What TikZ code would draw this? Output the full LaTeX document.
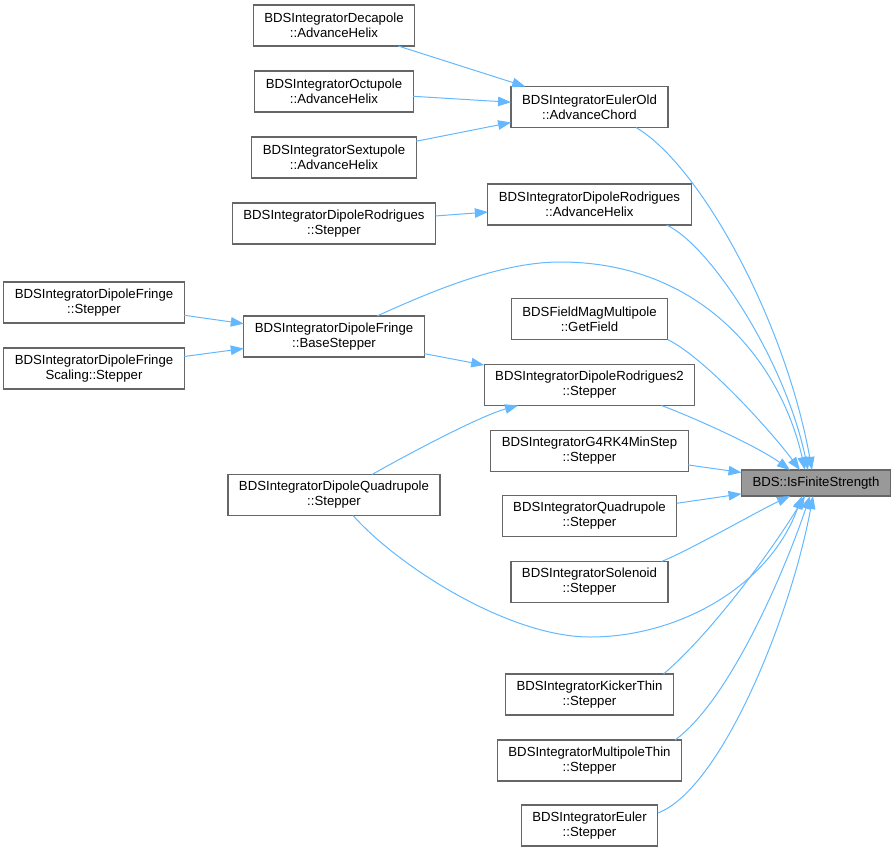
\documentclass[tikz,border=0pt]{standalone}
\usepackage{fontspec}
\setmainfont{Liberation Sans}
\usetikzlibrary{positioning}
\usetikzlibrary{arrows.meta}

\definecolor{edgeblue}{HTML}{63B8FF}
\definecolor{boxgrey}{HTML}{666666}
\definecolor{mainfill}{HTML}{999999}

\begin{document}
\begin{tikzpicture}[x=1pt,y=-1pt]
	\tikzset{
		fnnode/.style={rectangle, draw=boxgrey, line width=1.2pt, fill=white, align=center, minimum height=41pt, inner xsep=11pt, inner ysep=2pt, outer sep=0pt, font=\fontsize{13.2}{15}\selectfont},
		mainnode/.style={fnnode, fill=mainfill, minimum height=26pt},
		calledge/.style={->, draw=edgeblue, line width=1pt},
		>={Triangle[length=13pt, width=9.5pt]},
	}
	\useasboundingbox (0,0) rectangle (896,851);

	\node[fnnode] (deca) at (334,25.5) {BDSIntegratorDecapole\\::AdvanceHelix};
	\node[fnnode, below=25pt of deca] (octu) {BDSIntegratorOctupole\\::AdvanceHelix};
	\node[fnnode, below=25pt of octu] (sext) {BDSIntegratorSextupole\\::AdvanceHelix};
	\node[fnnode, below=25pt of sext] (rodstep) {BDSIntegratorDipoleRodrigues\\::Stepper};
	\node[fnnode] (fringe) at (94,302.5) {BDSIntegratorDipoleFringe\\::Stepper};
	\node[fnnode, below=25pt of fringe] (fringescal) {BDSIntegratorDipoleFringe\\Scaling::Stepper};
	\node[fnnode] (basestep) at (334,336.5) {BDSIntegratorDipoleFringe\\::BaseStepper};
	\node[fnnode] (dipquad) at (334,495) {BDSIntegratorDipoleQuadrupole\\::Stepper};

	\node[fnnode] (eulerold) at (589.5,107) {BDSIntegratorEulerOld\\::AdvanceChord};
	\node[fnnode] (rodhelix) at (589.5,204.5) {BDSIntegratorDipoleRodrigues\\::AdvanceHelix};
	\node[fnnode] (getfield) at (589.5,319) {BDSFieldMagMultipole\\::GetField};
	\node[fnnode, below=25pt of getfield] (rod2) {BDSIntegratorDipoleRodrigues2\\::Stepper};
	\node[fnnode, below=25pt of rod2] (g4rk4) {BDSIntegratorG4RK4MinStep\\::Stepper};
	\node[fnnode, below=24pt of g4rk4] (quad) {BDSIntegratorQuadrupole\\::Stepper};
	\node[fnnode, below=25pt of quad] (solen) {BDSIntegratorSolenoid\\::Stepper};
	\node[fnnode] (kicker) at (589.5,694.5) {BDSIntegratorKickerThin\\::Stepper};
	\node[fnnode, below=25pt of kicker] (multthin) {BDSIntegratorMultipoleThin\\::Stepper};
	\node[fnnode, below=24pt of multthin] (euler) {BDSIntegratorEuler\\::Stepper};

	\node[mainnode] (fin) at (816,483) {BDS::IsFiniteStrength};

	% callers of the intermediate steppers
	\draw[calledge] (deca) -- (eulerold);
	\draw[calledge] (octu) -- (eulerold);
	\draw[calledge] (sext) -- (eulerold);
	\draw[calledge] (rodstep) -- (rodhelix);
	\draw[calledge] (fringe) -- (basestep);
	\draw[calledge] (fringescal) -- (basestep);
	\draw[calledge] (basestep) -- (rod2);
	\draw[calledge] ([xshift=38pt]dipquad.north) .. controls (410,453) and (480,416) .. ([xshift=-71.5pt]rod2.south);

	% everything ends in IsFiniteStrength
	\draw[calledge] ([xshift=46.5pt]eulerold.south) .. controls (700,165) and (785,320) .. ([xshift=-4pt]fin.north);
	\draw[calledge] ([xshift=77pt]rodhelix.south) .. controls (710,245) and (785,360) .. ([xshift=-8pt]fin.north);
	\draw[calledge] ([xshift=43pt]basestep.north) .. controls (430,292) and (500,262) .. (560,262) .. controls (700,262) and (780,360) .. ([xshift=-11pt]fin.north);
	\draw[calledge] (getfield.south east) .. controls (705,358) and (770,430) .. ([xshift=-16pt]fin.north);
	\draw[calledge] ([xshift=72pt]rod2.south) .. controls (700,420) and (760,448) .. ([xshift=-26pt]fin.north);
	\draw[calledge] (g4rk4) -- (fin);
	\draw[calledge] (quad) -- (fin);
	\draw[calledge] ([xshift=72pt]solen.north) .. controls (690,550) and (760,510) .. ([xshift=-26pt]fin.south);
	\draw[calledge] ([xshift=19pt]dipquad.south) .. controls (400,568) and (510,637) .. (590,637) .. controls (680,637) and (770,585) .. ([xshift=-14pt]fin.south);
	\draw[calledge] ([xshift=74pt]kicker.north) .. controls (715,630) and (775,545) .. ([xshift=-11pt]fin.south);
	\draw[calledge] ([xshift=85.5pt]multthin.north) .. controls (730,700) and (785,570) .. ([xshift=-6pt]fin.south);
	\draw[calledge] ([yshift=12.5pt]euler.east) .. controls (720,790) and (790,620) .. ([xshift=-3pt]fin.south);
\end{tikzpicture}
\end{document}
